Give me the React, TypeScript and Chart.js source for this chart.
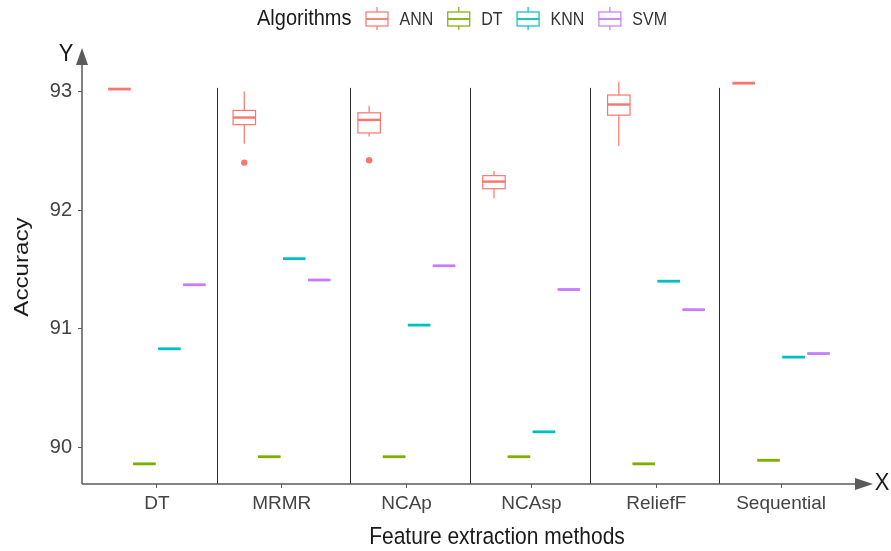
import { useEffect, useRef } from "react";
import { Chart, registerables } from "chart.js";

Chart.register(...registerables);

const categories = ["DT", "MRMR", "NCAp", "NCAsp", "ReliefF", "Sequential"];
const algorithms = ["ANN", "DT", "KNN", "SVM"];
const colors = ["#F8766D", "#7CAE00", "#00BFC4", "#C77CFF"];

// ANN boxplot statistics per category
const annMin = [93.02, 92.56, 92.62, 92.1, 92.54, 93.07];
const annQ1 = [93.02, 92.72, 92.65, 92.18, 92.8, 93.07];
const annMedian = [93.02, 92.78, 92.76, 92.24, 92.89, 93.07];
const annQ3 = [93.02, 92.84, 92.82, 92.29, 92.97, 93.07];
const annMax = [93.02, 93.0, 92.88, 92.33, 93.08, 93.07];
const annOutliers = [
  { x: 1, y: 92.4 },
  { x: 2, y: 92.42 },
];

// Other algorithms (constant accuracy across runs)
const dtValues = [89.86, 89.92, 89.92, 89.92, 89.86, 89.89];
const knnValues = [90.83, 91.59, 91.03, 90.13, 91.4, 90.76];
const svmValues = [91.37, 91.41, 91.53, 91.33, 91.16, 90.79];

const yTicks = [90, 91, 92, 93];
const separators = [0.48, 1.55, 2.51, 3.47, 4.5];
const separatorTop = 93.03;
const dodge = [-0.3, -0.1, 0.1, 0.3];
const boxHalf = 0.09;

const FONT = '"Liberation Sans", Arial, sans-serif';

type Stat = { min: number; q1: number; med: number; q3: number; max: number };
const flat = (vals: number[]): Stat[] =>
  vals.map((v) => ({ min: v, q1: v, med: v, q3: v, max: v }));
const stats: Stat[][] = [
  annMin.map((_, i) => ({
    min: annMin[i],
    q1: annQ1[i],
    med: annMedian[i],
    q3: annQ3[i],
    max: annMax[i],
  })),
  flat(dtValues),
  flat(knnValues),
  flat(svmValues),
];
const outliers = [annOutliers, [], [], []];

function stretchedText(
  ctx: CanvasRenderingContext2D,
  text: string,
  x: number,
  y: number,
  sy: number,
  rotate = 0
) {
  ctx.save();
  ctx.translate(x, y);
  ctx.scale(1, sy);
  if (rotate) ctx.rotate(rotate);
  ctx.fillText(text, 0, 0);
  ctx.restore();
}

const boxPlugin = {
  id: "boxPlugin",
  beforeDatasetsDraw(chart: any) {
    const { ctx, chartArea } = chart;
    const x = chart.scales.x;
    const y = chart.scales.y;
    ctx.save();
    // separators
    ctx.strokeStyle = "#2b2b2b";
    ctx.lineWidth = 1;
    separators.forEach((s) => {
      const px = Math.round(x.getPixelForValue(s)) + 0.5;
      ctx.beginPath();
      ctx.moveTo(px, y.getPixelForValue(separatorTop));
      ctx.lineTo(px, chartArea.bottom);
      ctx.stroke();
    });
    // boxes
    stats.forEach((arr, j) => {
      arr.forEach((st, i) => {
        const cx = x.getPixelForValue(i + dodge[j]);
        const l = x.getPixelForValue(i + dodge[j] - boxHalf);
        const r = x.getPixelForValue(i + dodge[j] + boxHalf);
        const pMin = y.getPixelForValue(st.min);
        const pQ1 = y.getPixelForValue(st.q1);
        const pMed = y.getPixelForValue(st.med);
        const pQ3 = y.getPixelForValue(st.q3);
        const pMax = y.getPixelForValue(st.max);
        ctx.strokeStyle = colors[j];
        ctx.lineWidth = 1.2;
        ctx.beginPath();
        ctx.moveTo(cx, pMax);
        ctx.lineTo(cx, pQ3);
        ctx.moveTo(cx, pQ1);
        ctx.lineTo(cx, pMin);
        ctx.stroke();
        ctx.strokeRect(l, pQ3, r - l, pQ1 - pQ3);
        ctx.lineWidth = st.q1 === st.q3 ? 2.8 : 2.4;
        ctx.beginPath();
        ctx.moveTo(l, pMed);
        ctx.lineTo(r, pMed);
        ctx.stroke();
      });
    });
    ctx.restore();
  },
  afterDraw(chart: any) {
    const { ctx, chartArea } = chart;
    ctx.save();
    const axisColor = "#5a5a5a";
    ctx.strokeStyle = axisColor;
    ctx.fillStyle = axisColor;
    ctx.lineWidth = 1.5;
    const L = chartArea.left;
    const B = chartArea.bottom;
    const yTip = chartArea.top - 15;
    const xTip = chartArea.right + 17;
    // y axis line + arrow
    ctx.beginPath();
    ctx.moveTo(L, B);
    ctx.lineTo(L, yTip + 10);
    ctx.stroke();
    ctx.beginPath();
    ctx.moveTo(L, yTip);
    ctx.lineTo(L - 6, yTip + 17);
    ctx.lineTo(L + 6, yTip + 17);
    ctx.closePath();
    ctx.fill();
    // x axis line + arrow
    ctx.beginPath();
    ctx.moveTo(L, B);
    ctx.lineTo(xTip - 10, B);
    ctx.stroke();
    ctx.beginPath();
    ctx.moveTo(xTip, B);
    ctx.lineTo(xTip - 18, B - 6);
    ctx.lineTo(xTip - 18, B + 6);
    ctx.closePath();
    ctx.fill();

    // axis letters
    ctx.fillStyle = "#1a1a1a";
    ctx.textAlign = "center";
    ctx.textBaseline = "middle";
    ctx.font = `22px ${FONT}`;
    stretchedText(ctx, "Y", L - 16, yTip + 6, 1.12);
    stretchedText(ctx, "X", xTip + 9, B - 1, 1.12);

    // axis titles
    ctx.font = `21px ${FONT}`;
    stretchedText(ctx, "Feature extraction methods", (L + chartArea.right) / 2 + 28, 537, 1.13);
    stretchedText(ctx, "Accuracy", 22, 267, 1.15, -Math.PI / 2);

    // legend
    let lx = 257;
    const ly = 19;
    ctx.textAlign = "left";
    ctx.font = `20px ${FONT}`;
    ctx.fillStyle = "#1a1a1a";
    stretchedText(ctx, "Algorithms", lx, ly, 1.12);
    lx += ctx.measureText("Algorithms").width + 14;
    algorithms.forEach((name, j) => {
      ctx.strokeStyle = colors[j];
      ctx.lineWidth = 1.2;
      const kx = lx + 11.5;
      ctx.beginPath();
      ctx.moveTo(kx, ly - 12);
      ctx.lineTo(kx, ly - 7);
      ctx.moveTo(kx, ly + 7);
      ctx.lineTo(kx, ly + 11);
      ctx.stroke();
      ctx.strokeRect(lx + 0.5, ly - 7, 22, 14);
      ctx.lineWidth = 1.8;
      ctx.beginPath();
      ctx.moveTo(lx + 0.5, ly);
      ctx.lineTo(lx + 22.5, ly);
      ctx.stroke();
      ctx.font = `16px ${FONT}`;
      ctx.fillStyle = "#333333";
      const tx = lx + 34;
      stretchedText(ctx, name, tx, ly + 1, 1.12);
      lx = tx + ctx.measureText(name).width + 14;
    });
    ctx.restore();
  },
};

export default function App() {
  const ref = useRef<HTMLCanvasElement | null>(null);
  useEffect(() => {
    if (!ref.current) return;
    const chart = new Chart(ref.current, {
      type: "scatter",
      data: {
        datasets: algorithms.map((name, j) => ({
          label: name,
          data: outliers[j].map((o) => ({ x: o.x + dodge[j], y: o.y })),
          backgroundColor: colors[j],
          borderColor: colors[j],
          borderWidth: 0,
          pointRadius: 3.2,
        })),
      },
      options: {
        animation: false,
        responsive: false,
        maintainAspectRatio: false,
        layout: { padding: { top: 63, right: 35, left: 0, bottom: 0 } },
        plugins: { legend: { display: false }, tooltip: { enabled: false } },
        scales: {
          x: {
            type: "linear",
            min: -0.6,
            max: 5.6,
            afterBuildTicks: (scale: any) => {
              scale.ticks = categories.map((_, i) => ({ value: i }));
            },
            afterFit: (scale: any) => {
              scale.height = 67;
            },
            border: { display: false },
            grid: {
              drawOnChartArea: false,
              drawTicks: true,
              tickLength: 4,
              color: "#5a5a5a",
              lineWidth: 1,
            },
            ticks: {
              padding: 4,
              color: "#444444",
              font: { family: FONT, size: 19 },
              maxRotation: 0,
              autoSkip: false,
              callback: (v: any) => categories[v] ?? "",
            },
          },
          y: {
            type: "linear",
            min: 89.69,
            max: 93.24,
            afterBuildTicks: (scale: any) => {
              scale.ticks = yTicks.map((v) => ({ value: v }));
            },
            afterFit: (scale: any) => {
              scale.width = 82;
            },
            border: { display: false },
            grid: {
              drawOnChartArea: false,
              drawTicks: true,
              tickLength: 4,
              color: "#5a5a5a",
              lineWidth: 1,
            },
            ticks: {
              padding: 6,
              color: "#444444",
              font: { family: FONT, size: 20 },
              callback: (v: any) => String(v),
            },
          },
        },
      },
      plugins: [boxPlugin],
    });
    return () => chart.destroy();
  }, []);
  return (
    <div
      style={{
        position: "absolute",
        left: 0,
        top: 0,
        width: 891,
        height: 551,
        background: "#ffffff",
      }}
    >
      <canvas ref={ref} width={891} height={551} style={{ display: "block" }} />
    </div>
  );
}
